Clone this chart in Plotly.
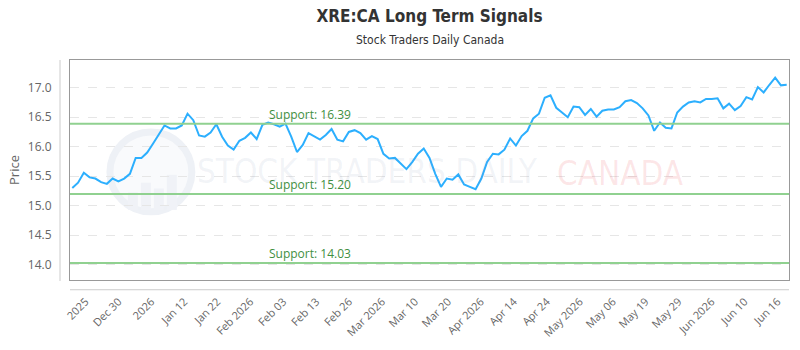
import plotly.graph_objects as go
import numpy as np

prices = [
    15.30, 15.39, 15.56, 15.48, 15.46, 15.40, 15.37, 15.46, 15.41, 15.46,
    15.54, 15.81, 15.81, 15.90, 16.05, 16.21, 16.36, 16.31, 16.31, 16.36,
    16.56, 16.45, 16.19, 16.17, 16.24,
    16.38, 16.17, 16.02, 15.95, 16.10, 16.15, 16.24, 16.13, 16.37, 16.41,
    16.38, 16.34, 16.39, 16.17, 15.91, 16.03, 16.23, 16.17, 16.12, 16.20,
    16.30, 16.12, 16.09, 16.25, 16.28,
    16.23, 16.12, 16.18, 16.13, 15.88, 15.80, 15.81, 15.72, 15.62, 15.74,
    15.88, 15.97, 15.81, 15.54, 15.32, 15.46, 15.44, 15.53, 15.36, 15.32,
    15.28, 15.46, 15.74, 15.88, 15.87,
    15.95, 16.14, 16.02, 16.18, 16.27, 16.48, 16.56, 16.83, 16.87, 16.66,
    16.58, 16.50, 16.68, 16.67, 16.54, 16.64, 16.51, 16.61, 16.63, 16.63,
    16.67, 16.77, 16.79, 16.74, 16.65,
    16.53, 16.27, 16.41, 16.32, 16.31, 16.58, 16.68, 16.75, 16.77, 16.75,
    16.81, 16.81, 16.82, 16.65, 16.73, 16.62, 16.69, 16.84, 16.80, 17.01,
    16.92, 17.05, 17.17, 17.04, 17.05,
]
x_index = list(range(len(prices)))

tick_labels = ["2025", "Dec 30", "2026", "Jan 12", "Jan 22", "Feb 2026", "Feb 03",
               "Feb 13", "Feb 26", "Mar 2026", "Mar 10", "Mar 20", "Apr 2026",
               "Apr 14", "Apr 24", "May 2026", "May 06", "May 19", "May 29",
               "Jun 2026", "Jun 10", "Jun 16"]
tick_positions = list(np.linspace(2.3, 122.4, len(tick_labels)))

support_levels = [16.39, 15.20, 14.03]

fig = go.Figure()
fig.add_trace(go.Scatter(
    x=x_index, y=prices, mode="lines",
    line=dict(color="#2caffe", width=2), hoverinfo="skip", showlegend=False,
))

shapes = []
annotations = []

# plot area geometry (pixels) for paper conversions
L, R, T, B = 70, 790, 60, 286
def px(xp):
    return (xp - L) / (R - L)
def py(yp):
    return (B - yp) / (B - T)

# watermark logo circle
shapes.append(dict(type="circle", xref="paper", yref="paper", layer="below",
                   x0=px(110), x1=px(192), y0=py(216), y1=py(134),
                   line=dict(color="#eef1f6", width=7), fillcolor="#f9fafc"))
for bx0, bx1, by in [(128, 138, 196), (141, 151, 186), (154, 164, 192), (167, 177, 178)]:
    shapes.append(dict(type="rect", xref="paper", yref="paper", layer="below",
                       x0=px(bx0), x1=px(bx1), y0=py(214), y1=py(by),
                       line=dict(width=0), fillcolor="#f0f2f7"))

for lvl in support_levels:
    shapes.append(dict(type="line", xref="paper", yref="y", x0=0, x1=1, y0=lvl, y1=lvl,
                       line=dict(color="#90d190", width=2), layer="above"))
    annotations.append(dict(xref="paper", yref="y", x=px(267), y=lvl,
                            text=f"Support: {lvl:.2f}", showarrow=False,
                            xanchor="left", yanchor="bottom", yshift=-1,
                            font=dict(family="Open Sans", size=12, color="#3f8f3f")))

# offset axis lines
shapes.append(dict(type="line", xref="paper", yref="paper", x0=px(60), x1=px(60),
                   y0=py(287), y1=py(60), line=dict(color="#cccccc", width=1)))
shapes.append(dict(type="line", xref="paper", yref="paper", x0=0, x1=1,
                   y0=py(296), y1=py(296), line=dict(color="#cccccc", width=1)))

# watermark text
annotations.append(dict(xref="paper", yref="paper", x=px(368), y=py(175),
                        text="STOCK TRADERS DAILY", showarrow=False,
                        xanchor="center", yanchor="middle",
                        font=dict(family="DejaVu Sans Condensed", size=33,
                                  color="rgba(120,140,180,0.10)")))
annotations.append(dict(xref="paper", yref="paper", x=px(621), y=py(177),
                        text="CANADA", showarrow=False,
                        xanchor="center", yanchor="middle",
                        font=dict(family="DejaVu Sans Condensed", size=33,
                                  color="rgba(235,60,70,0.13)")))

# subtitle
annotations.append(dict(xref="paper", yref="paper", x=0.5, y=py(39),
                        text="Stock Traders Daily Canada", showarrow=False,
                        xanchor="center", yanchor="middle",
                        font=dict(family="DejaVu Sans Condensed", size=12, color="#333333")))

fig.update_layout(
    width=800, height=350,
    margin=dict(l=L, r=800 - R, t=T, b=350 - B),
    paper_bgcolor="white", plot_bgcolor="white",
    title=dict(text="<b>XRE:CA Long Term Signals</b>", x=0.5, xref="paper",
               xanchor="center", y=1 - 16 / 350, yanchor="middle", yref="container",
               font=dict(family="DejaVu Sans Condensed", size=17, color="#333333")),
    shapes=shapes, annotations=annotations,
    showlegend=False,
    xaxis=dict(range=[-0.4, 124.4], tickmode="array", tickvals=tick_positions,
               ticktext=tick_labels, tickangle=-45, showgrid=False, zeroline=False,
               showline=True, mirror=True, linecolor="#999999", linewidth=1,
               ticks="outside", ticklen=10, tickcolor="rgba(0,0,0,0)",
               tickfont=dict(family="Open Sans", size=11, color="#666666")),
    yaxis=dict(range=[13.74, 17.47], tickmode="array",
               tickvals=[14.0, 14.5, 15.0, 15.5, 16.0, 16.5, 17.0],
               ticktext=["14.0", "14.5", "15.0", "15.5", "16.0", "16.5", "17.0"],
               showgrid=True, gridcolor="#e6e6e6", griddash="dash", gridwidth=1,
               zeroline=False, showline=True, mirror=True, linecolor="#999999",
               linewidth=1, ticks="outside", ticklen=15, tickcolor="rgba(0,0,0,0)",
               tickfont=dict(family="Open Sans", size=12, color="#666666"),
               title=dict(text="Price", standoff=5,
                          font=dict(family="Open Sans", size=13, color="#666666"))),
)

fig.write_html("out.html")
